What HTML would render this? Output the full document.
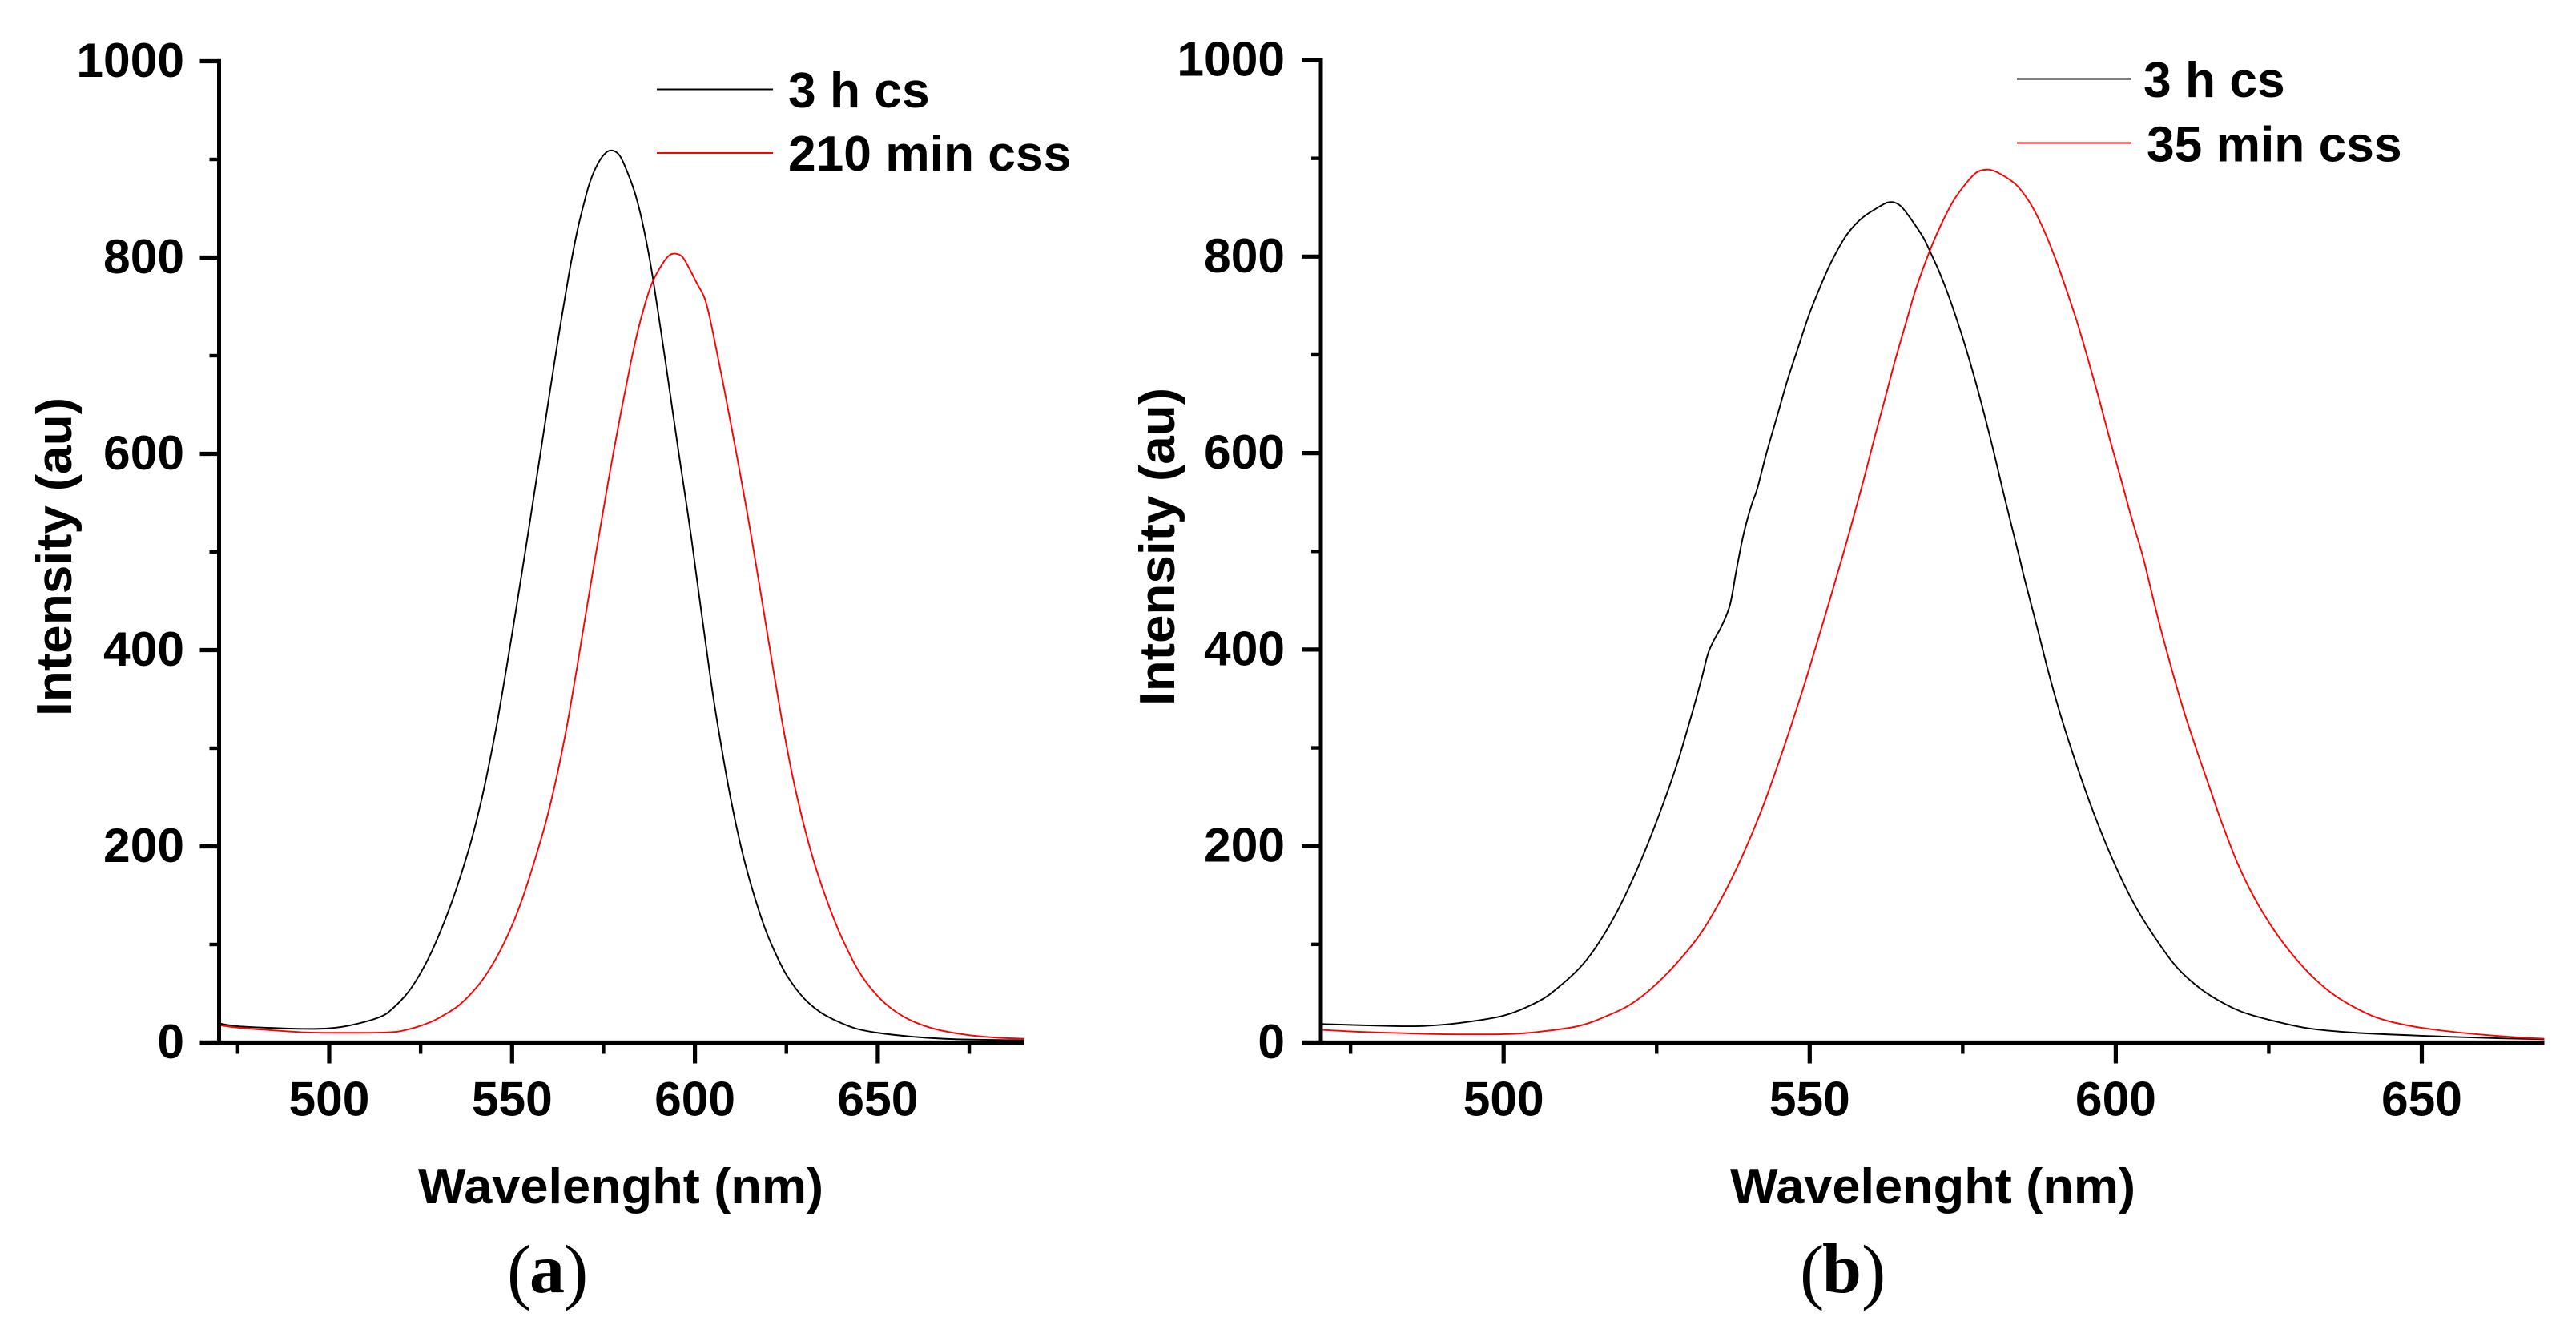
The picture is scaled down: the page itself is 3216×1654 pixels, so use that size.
<!DOCTYPE html>
<html lang="en">
<head>
<meta charset="utf-8">
<title>Emission spectra (a) and (b)</title>
<style>
html,body{margin:0;padding:0;background:#fff;width:3216px;height:1654px;overflow:hidden}
svg{display:block}
text{font-family:"Liberation Sans",sans-serif;font-weight:700;fill:#000}
.serif{font-family:"Liberation Serif",serif}
</style>
</head>
<body>
<svg id="chart" xmlns="http://www.w3.org/2000/svg" width="3216" height="1654" viewBox="0 0 3216 1654">
  <rect width="3216" height="1654" fill="#fff"/>
  <g id="panel-a"></g>
  <g id="panel-b"></g>
  <text class="serif" font-size="91" style="font-weight:400"><tspan x="633" y="1617">(</tspan><tspan x="661" y="1613" font-size="88" style="font-weight:700">a</tspan><tspan x="704" y="1617">)</tspan></text>
  <text class="serif" font-size="91" style="font-weight:400"><tspan x="2247" y="1617">(</tspan><tspan x="2275" y="1613" font-size="88" style="font-weight:700">b</tspan><tspan x="2324" y="1617">)</tspan></text>
</svg>
<script>
// Tick values and labels
const yMajorTicks = [0, 200, 400, 600, 800, 1000];
const yMinorTicks = [100, 300, 500, 700, 900];
const xMajorTicks = [500, 550, 600, 650];
const xMinorTicksA = [475, 525, 575, 625, 675];
const xMinorTicksB = [475, 525, 575, 625];

// Panel (a): 3 h cs
const aBlackWavelength = [470,475,484,493,500,506,513.8,517.4,521.7,525.3,528.9,533.2,536.1,539,541.8,544,546.2,548.3,550.5,552.6,554.5,557.4,560.4,562.9,565.5,567.7,569.5,571.3,573.5,575.7,577.5,579.4,581.2,583.4,585.2,587,588.5,590.3,592.1,594,595.8,597.5,599,600.8,603,605.1,607.3,609.4,611.6,613.7,616.6,619.5,622.4,625.2,629.6,633.9,638.2,643.9,650,659.7,671,690];
const aBlackIntensity = [19.5,16.7,15,14,14.6,17.8,26,35,52,73,100,140,172,208,250,289,332,378,428,477,522,592,665,724,782,825,853,877,896,907,909,904,890,868,843,811,779,735,690,641,595,553,515,465,405,350,300,256,216,183,145,113,88,68,46,32,23,14.5,10,6,3.5,2.4];

// Panel (a): 210 min css
const aRedWavelength = [470,475,484.3,493,500,516,521.7,527.5,531.8,536.1,541.1,544.7,547.6,550.5,553.3,556.2,559.1,561.3,563.4,565.6,567.7,569.9,572,574,576.4,579.4,582.3,584.5,586.7,588.5,591,592.9,594.5,596.5,598.3,600.5,602.5,603.8,605.6,607.8,610,612.2,614,615.5,618,620.9,623.8,626.6,629.5,632.4,635.3,638.2,641,644.6,648.2,652.6,658.3,665.5,674.1,682.7,690];
const aRedIntensity = [17.8,15.3,12.6,10.5,10,10.5,13.6,20.6,29,40,60,80,100,124,152,186,223,256,292,335,381,431,478,522,574,635,690,727,757,776,793,802,804,801,790,774,760,743,711,670,627,583,546,514,458,392,328,273,226,186,153,124,100,74,55,38,24,14,8,5,4];

// Panel (b): 3 h cs
const bBlackWavelength = [470.3,481,486.3,492.3,500,505.7,509,512.7,515.7,519,522.4,525.7,528.4,531,532.4,533.4,534.4,535.7,537,538,539,539.7,540.6,541.45,542.9,544.7,546.4,548.2,549.9,551.7,553.4,555.7,557.5,559.2,561.3,562.7,563.9,565.1,566.8,568.6,569.75,571.2,572.7,574.4,575.6,577,578.5,580,581.4,582.9,584.3,585.1,587.1,589.1,591.1,593.8,596.5,599.8,603.1,606.5,609.8,613.2,616.5,620.5,625.2,631.2,638.5,650,661.9,670];
const bBlackIntensity = [18.9,17,16.8,19.6,27.5,42,56.6,78,103,139,185,237,285,340,372,396,410,425,446,480,512,530,549,564,599,638,675,709,741,769,793,819,833,842.3,850.5,855,855,850,836,819,804,784,760,729,705,675,640,603,566,528,493,472,424,375,331,279,232,182,140,106,78,58,44,31.6,23,14.8,10.3,7,4.5,3.4];

// Panel (b): 35 min css
const bRedWavelength = [470.3,476.3,483.6,489.6,500,505.7,512.3,517,521,525,529,532.4,535.7,539,542.4,545.7,549,552.4,555.5,556.9,558.7,560.4,562.2,563.9,565.7,567.4,569.75,571.5,573.5,575.6,577.3,578.9,580.2,582,583.75,585.2,586.7,588.4,590.2,591.9,593.7,595.4,597.2,598.9,600.7,602.4,604.2,605.1,607.1,609.1,611.1,613.2,615.2,617.2,619.8,622.5,625.8,629.2,632.5,635.8,639.9,643.9,650,657.2,665.2,670];
const bRedIntensity = [13,11,9.6,8.6,8.6,11,17,27.5,40,60,86,113,148,190,241,299,362,432,498,529,570,611,653,693,732,768,808,833,857,875,885.8,888.5,887,881,873,862,847,825,797,767,733,697,657,617,577,538,500,478,427,381,338,298,262,226,184,149,115,87,65,48,33,23,15,9.6,5.5,4];

const blackName = '3 h cs';
const redNameA = '210 min css';
const redNameB = '35 min css';
const xTitle = 'Wavelenght (nm)';
const yTitle = 'Intensity (au)';

const NS = 'http://www.w3.org/2000/svg';

function axisLine(parent, x1, y1, x2, y2, w, name) {
  const el = document.createElementNS(NS, 'line');
  el.setAttribute('x1', x1);
  el.setAttribute('y1', y1);
  el.setAttribute('x2', x2);
  el.setAttribute('y2', y2);
  el.setAttribute('stroke', '#000');
  el.setAttribute('stroke-width', w);
  
  
  parent.appendChild(el);
  return el;
}

function label(parent, str, x, y, size, anchor, name, length) {
  const el = document.createElementNS(NS, 'text');
  el.setAttribute('x', x);
  el.setAttribute('y', y);
  el.setAttribute('font-size', size);
  el.setAttribute('text-anchor', anchor);
  if (length) {
    el.setAttribute('textLength', length);
    el.setAttribute('lengthAdjust', 'spacingAndGlyphs');
  }
  
  
  el.textContent = str;
  parent.appendChild(el);
  return el;
}

function smoothPath(pts) {
  let d = 'M' + pts[0][0].toFixed(2) + ' ' + pts[0][1].toFixed(2);
  for (let i = 0; i < pts.length - 1; i++) {
    const p0 = pts[Math.max(i - 1, 0)];
    const p1 = pts[i];
    const p2 = pts[i + 1];
    const p3 = pts[Math.min(i + 2, pts.length - 1)];
    const c1x = p1[0] + (p2[0] - p0[0]) / 6;
    const c1y = p1[1] + (p2[1] - p0[1]) / 6;
    const c2x = p2[0] - (p3[0] - p1[0]) / 6;
    const c2y = p2[1] - (p3[1] - p1[1]) / 6;
    d += 'C' + c1x.toFixed(2) + ' ' + c1y.toFixed(2) + ' ' + c2x.toFixed(2) + ' ' + c2y.toFixed(2) + ' ' + p2[0].toFixed(2) + ' ' + p2[1].toFixed(2);
  }
  return d;
}

function series(parent, xs, ys, xFn, yFn, color, name) {
  const el = document.createElementNS(NS, 'path');
  el.setAttribute('d', smoothPath(xs.map((v, i) => [xFn(v), yFn(ys[i])])));
  el.setAttribute('fill', 'none');
  el.setAttribute('stroke', color);
  el.setAttribute('stroke-width', '1.9');
  el.setAttribute('stroke-linejoin', 'round');
  
  
  parent.appendChild(el);
  return el;
}

function drawPanel(o) {
  const g = document.getElementById(o.id);
  const xFn = v => o.x500 + (v - 500) * o.xScale;
  const yFn = v => o.y0 - v * o.yScale;

  series(g, o.blackX, o.blackY, xFn, yFn, '#000', 'series-3h-cs');
  series(g, o.redX, o.redY, xFn, yFn, '#f00', 'series-' + o.redLabel.replace(/\s+/g, '-'));

  axisLine(g, o.axisX, yFn(1000) - 2.6, o.axisX, o.y0 + 2.6, 5, 'y-axis-line');
  axisLine(g, o.axisX - 24, o.y0, o.xEnd, o.y0, 5.2, 'x-axis-line');

  yMajorTicks.forEach(v => {
    axisLine(g, o.axisX - 24, yFn(v), o.axisX, yFn(v), 5.2, 'y-major-tick');
    label(g, String(v), o.yLabelX, yFn(v) + 19.5, 60.5, 'end', 'y-tick-label');
  });
  yMinorTicks.forEach(v => {
    axisLine(g, o.axisX - 12, yFn(v), o.axisX, yFn(v), 4.4, 'y-minor-tick');
  });
  xMajorTicks.forEach(v => {
    axisLine(g, xFn(v), o.y0, xFn(v), o.y0 + 26, 5.2, 'x-major-tick');
    label(g, String(v), xFn(v), 1392.5, 60.5, 'middle', 'x-tick-label');
  });
  o.xMinor.forEach(v => {
    axisLine(g, xFn(v), o.y0, xFn(v), o.y0 + 14, 4.4, 'x-minor-tick');
  });

  label(g, xTitle, o.xTitleX, 1502, 62.5, 'start', 'x-axis-title', o.xTitleLen);

  const yt = label(g, yTitle, 0, 0, 62.5, 'start', 'y-axis-title', o.yTitleLen);
  yt.setAttribute('transform', 'translate(' + o.yTitleX + ' ' + o.yTitleY + ') rotate(-90)');

  axisLine(g, o.legX1, o.legY1, o.legX2, o.legY1, 2.1, 'legend-line-black');
  axisLine(g, o.legX1, o.legY2, o.legX2, o.legY2, 2.1, 'legend-line-red').setAttribute('stroke', '#f00');
  label(g, blackName, o.legTextX1, o.legBase1, 62.3, 'start', 'legend-label-black');
  label(g, o.redLabel, o.legTextX2, o.legBase2, 62.3, 'start', 'legend-label-red');
}

drawPanel({
  id: 'panel-a', blackX: aBlackWavelength, blackY: aBlackIntensity, redX: aRedWavelength, redY: aRedIntensity,
  redLabel: redNameA, xMinor: xMinorTicksA,
  x500: 411, xScale: 4.566, y0: 1301.5, yScale: 1.225,
  axisX: 273.5, xEnd: 1279, yLabelX: 230,
  xTitleX: 522, xTitleLen: 506, yTitleX: 89, yTitleY: 894, yTitleLen: 398,
  legX1: 820, legX2: 965, legY1: 111.5, legY2: 191,
  legTextX1: 984, legTextX2: 984, legBase1: 134, legBase2: 213
});

drawPanel({
  id: 'panel-b', blackX: bBlackWavelength, blackY: bBlackIntensity, redX: bRedWavelength, redY: bRedIntensity,
  redLabel: redNameB, xMinor: xMinorTicksB,
  x500: 1877.2, xScale: 7.642, y0: 1301.5, yScale: 1.2265,
  axisX: 1649, xEnd: 3176.5, yLabelX: 1604,
  xTitleX: 2160, xTitleLen: 506, yTitleX: 1466, yTitleY: 881, yTitleLen: 397,
  legX1: 2518, legX2: 2661, legY1: 98.5, legY2: 178.5,
  legTextX1: 2676, legTextX2: 2680, legBase1: 121, legBase2: 201.5
});
</script>
</body>
</html>
